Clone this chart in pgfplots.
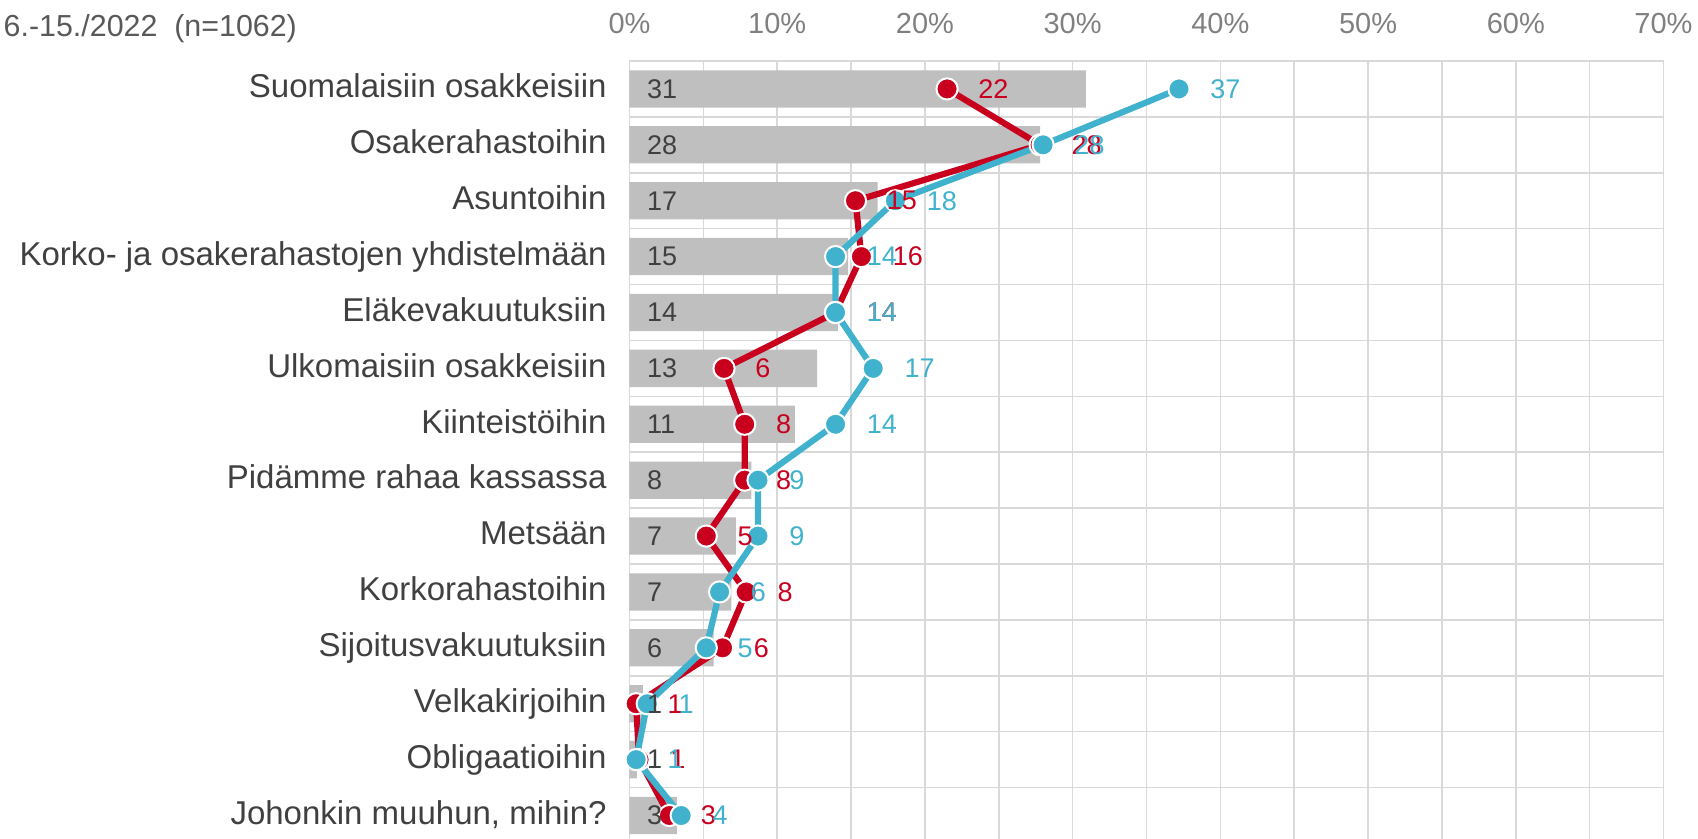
\documentclass[border=0pt]{standalone}
\usepackage{pgfplots}
\pgfplotsset{compat=1.18}
\usepackage{pgfplotstable}
\usepackage{fontspec}
\setmainfont{Liberation Sans}
\definecolor{barg}{HTML}{BFBFBF}
\definecolor{lred}{HTML}{C8001E}
\definecolor{lblue}{HTML}{41B2CE}
\definecolor{gridc}{HTML}{D9D9D9}
\definecolor{txt}{HTML}{404040}
\definecolor{tickc}{HTML}{808080}
\definecolor{ttl}{HTML}{595959}

\pgfplotstableread{
idx bar barlab red redlab blue bluelab
0 30.9 31 21.5 22 37.2 37
1 27.8 28 27.8 28 28.0 28
2 16.8 17 15.3 15 18.0 18
3 14.8 15 15.7 16 13.95 14
4 14.1 14 13.95 14 13.95 14
5 12.7 13 6.4 6 16.5 17
6 11.2 11 7.8 8 13.95 14
7 8.25 8 7.8 8 8.7 9
8 7.2 7 5.2 5 8.7 9
9 6.9 7 7.9 8 6.1 6
10 5.7 6 6.3 6 5.2 5
11 0.9 1 0.45 1 1.2 1
12 0.5 1 0.65 1 0.45 1
13 3.2 3 2.7 3 3.5 4
}\data

\begin{document}
\begin{tikzpicture}
\begin{axis}[
  at={(0pt,0pt)}, anchor=south west,
  scale only axis, width=517pt, height=389pt,
  xmin=0, xmax=70, ymin=-13.42, ymax=0.5,
  axis line style={draw=none},
  xtick={0,10,...,70}, minor xtick={5,15,...,65},
  xmajorgrids, xminorgrids,
  ytick={-13,...,0}, minor ytick={-12.5,-11.5,...,0.5},
  yminorgrids,
  major grid style={gridc, line width=0.75pt},
  minor grid style={gridc, line width=0.75pt},
  major tick length=0pt, minor tick length=0pt,
  xticklabel pos=right,
  xticklabel={\pgfmathprintnumber{\tick}\%},
  xticklabel style={anchor=base, yshift=13.85pt, inner sep=0pt, text=tickc, font=\fontsize{14.5}{17}\selectfont},
  yticklabels={Johonkin muuhun{,} mihin?, Obligaatioihin, Velkakirjoihin, Sijoitusvakuutuksiin, Korkorahastoihin, Metsään, Pidämme rahaa kassassa, Kiinteistöihin, Ulkomaisiin osakkeisiin, Eläkevakuutuksiin, Korko- ja osakerahastojen yhdistelmään, Asuntoihin, Osakerahastoihin, Suomalaisiin osakkeisiin},
  yticklabel style={anchor=east, inner sep=0pt, xshift=-11.25pt, text=txt, font=\fontsize{16.5}{20}\selectfont, text height=1em, text depth=0.12em},
  /pgf/number format/assume math mode=true,
  clip=false,
]
\addplot[xbar, bar width=0.667, bar shift=0pt, fill=barg, draw=none] table[x=bar, y expr=-\thisrow{idx}] {\data};
\addplot[lred, line width=3.1pt, line join=round, mark=*, mark size=5.3pt, mark options={fill=lred, draw=white, line width=1pt}] table[x=red, y expr=-\thisrow{idx}] {\data};
\addplot[lblue, line width=3.1pt, line join=round, mark=*, mark size=5.3pt, mark options={fill=lblue, draw=white, line width=1pt}] table[x=blue, y expr=-\thisrow{idx}] {\data};
\addplot[draw=none, nodes near coords, point meta=explicit symbolic, nodes near coords style={anchor=west, xshift=15.5pt, inner sep=0pt, text=lred, font=\fontsize{13.5}{15}\selectfont}] table[x=red, y expr=-\thisrow{idx}, meta=redlab] {\data};
\addplot[draw=none, nodes near coords, point meta=explicit symbolic, nodes near coords style={anchor=west, xshift=15.5pt, inner sep=0pt, text=lblue, font=\fontsize{13.5}{15}\selectfont}] table[x=blue, y expr=-\thisrow{idx}, meta=bluelab] {\data};
\addplot[draw=none, nodes near coords, point meta=explicit symbolic, nodes near coords style={anchor=west, xshift=8.6pt, inner sep=0pt, text=txt, font=\fontsize{13.5}{15}\selectfont}] table[x expr=0, y expr=-\thisrow{idx}, meta=barlab] {\data};
\end{axis}
\node[anchor=base west, inner sep=0pt, text=ttl, font=\fontsize{15.2}{18}\selectfont] at (-313.1pt,401.15pt) {6.-15./2022~~(n=1062)};
\pgfresetboundingbox
\path[use as bounding box] (-314.75pt,0pt) rectangle (534.25pt,419.5pt);
\end{tikzpicture}
\end{document}
